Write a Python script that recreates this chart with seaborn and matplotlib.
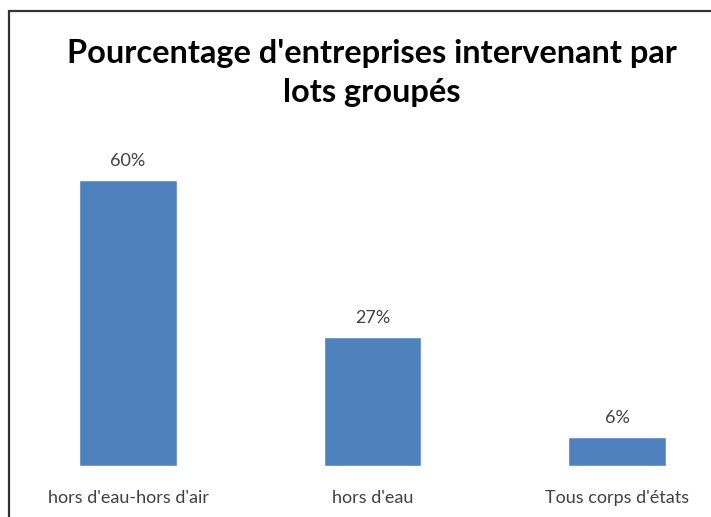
import matplotlib
matplotlib.use("Agg")
import matplotlib.pyplot as plt
import seaborn as sns
import pandas as pd
from matplotlib.patches import Rectangle

categories = ["hors d'eau-hors d'air", "hors d'eau", "Tous corps d'états"]
values = [60, 27, 6]
labels = ["60%", "27%", "6%"]
title = "Pourcentage d'entreprises intervenant par\nlots groupés"

sns.set_theme(style="white")
plt.rcParams['font.family'] = ['Lato', 'DejaVu Sans']

W, H = 711, 517
fig = plt.figure(figsize=(W / 100, H / 100), dpi=100)
fig.patch.set_facecolor("white")

base_px = 466
top_px = 132
ax = fig.add_axes([0, 1 - base_px / H, 1, (base_px - top_px) / H])
df = pd.DataFrame({"cat": categories, "val": values})
sns.barplot(data=df, x="cat", y="val", color="#4F81BD", width=0.4, saturation=1, ax=ax)

c0, step = 128, 244.5
ax.set_xlim((0 - c0) / step, (W - c0) / step)
ppu = (466 - 180) / 60
ax.set_ylim(0, (base_px - top_px) / ppu)

for i, (v, l) in enumerate(zip(values, labels)):
    ax.annotate(l, (i, v), xytext=(0, 8), textcoords="offset points",
                ha="center", va="bottom", fontsize=13, color="#404040")

ax.set_xticks(range(len(categories)))
ax.set_xticklabels(categories, fontsize=13, color="#404040")
ax.tick_params(axis="x", length=0, pad=17)
ax.set_yticks([])
ax.set_xlabel("")
ax.set_ylabel("")
for s in ax.spines.values():
    s.set_visible(False)
ax.patch.set_alpha(0)

fig.text(372 / W, 1 - 73 / H, title, ha="center", va="center", fontsize=23.4,
         fontweight="bold", color="black", linespacing=1.45)

fig.patches.append(Rectangle((9 / W, -0.1), 1.2, 1 - 11 / H + 0.1, transform=fig.transFigure,
                             fill=False, edgecolor="#333333", linewidth=1.6, zorder=10))

fig.savefig("out.png", dpi=100)
